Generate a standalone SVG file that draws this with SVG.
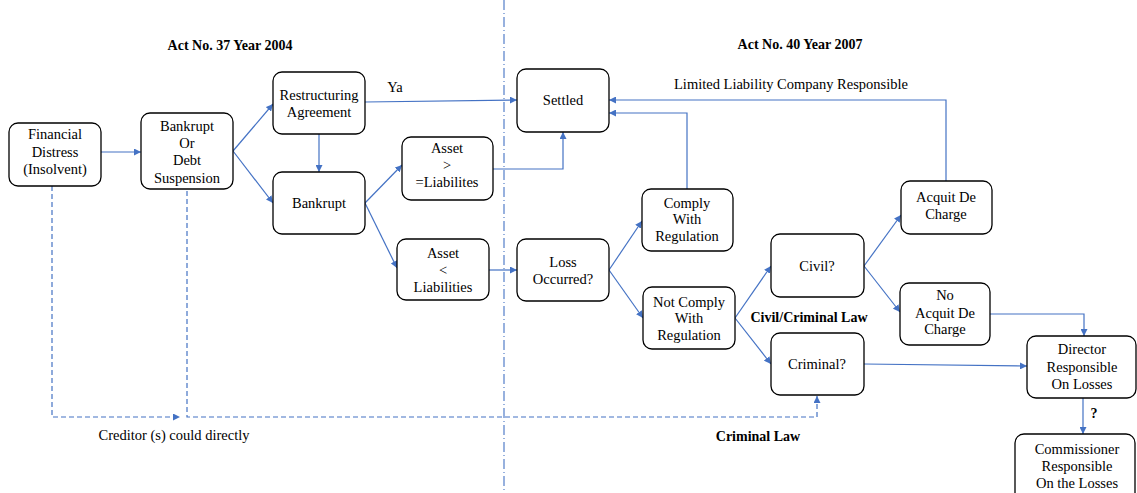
<svg xmlns="http://www.w3.org/2000/svg" width="1137" height="493" viewBox="0 0 1137 493">
<defs>
<marker id="ah" viewBox="0 0 10 10" refX="10" refY="5" markerWidth="7" markerHeight="7" markerUnits="userSpaceOnUse" orient="auto">
<path d="M0,0 L10,5 L0,10 z" fill="#4472C4"/>
</marker>
<style>
.box{fill:#fff;stroke:#000;stroke-width:1.3}
.t{font-family:"Liberation Serif","Times New Roman",serif;font-size:14.5px;fill:#000;text-anchor:middle}
.b{font-family:"Liberation Serif","Times New Roman",serif;font-size:14px;font-weight:bold;fill:#000;text-anchor:middle}
.c{fill:none;stroke:#4472C4;stroke-width:1.2}
.d{fill:none;stroke:#4472C4;stroke-width:1.2;stroke-dasharray:5 3}
.div{fill:none;stroke:#4472C4;stroke-width:1.1;stroke-dasharray:10 3 1 3}
</style>
</defs>
<rect width="1137" height="493" fill="#fff"/>
<line class="div" x1="504" y1="0" x2="504" y2="493"/>
<g id="labels">
<text class="b" x="230" y="50" font-size="13.5">Act No. 37 Year  2004</text>
<text class="b" x="800" y="49" font-size="13.5">Act No. 40 Year 2007</text>
<text class="t" x="395" y="92" text-anchor="start">Ya</text>
<text class="t" x="791" y="89">Limited Liability Company Responsible</text>
<text class="b" x="809" y="322">Civil/Criminal Law</text>
<text class="t" x="174" y="440">Creditor (s) could directly</text>
<text class="b" x="758" y="441">Criminal Law</text>
<text class="b" x="1094" y="418">?</text>
</g>
<g id="connectors">
<line class="c" x1="101" y1="152" x2="141" y2="152" marker-end="url(#ah)"/>
<line class="c" x1="233" y1="151" x2="273" y2="104" marker-end="url(#ah)"/>
<line class="c" x1="233" y1="151" x2="273" y2="203" marker-end="url(#ah)"/>
<line class="c" x1="319" y1="134" x2="319" y2="172" marker-end="url(#ah)"/>
<polyline class="c" points="365,102 517,100" marker-end="url(#ah)"/>
<line class="c" x1="365" y1="203" x2="402" y2="165" marker-end="url(#ah)"/>
<line class="c" x1="365" y1="203" x2="397" y2="268" marker-end="url(#ah)"/>
<polyline class="c" points="493,169 563,169 563,132" marker-end="url(#ah)"/>
<line class="c" x1="489" y1="270" x2="517" y2="270" marker-end="url(#ah)"/>
<line class="c" x1="609" y1="270" x2="642" y2="221" marker-end="url(#ah)"/>
<line class="c" x1="609" y1="270" x2="643" y2="318" marker-end="url(#ah)"/>
<polyline class="c" points="687,189 687,113 609,113" marker-end="url(#ah)"/>
<polyline class="c" points="946,181 946,100 609,100" marker-end="url(#ah)"/>
<line class="c" x1="735" y1="318" x2="771" y2="266" marker-end="url(#ah)"/>
<line class="c" x1="735" y1="318" x2="771" y2="364" marker-end="url(#ah)"/>
<line class="c" x1="864" y1="266" x2="901" y2="215" marker-end="url(#ah)"/>
<line class="c" x1="864" y1="266" x2="900" y2="312" marker-end="url(#ah)"/>
<polyline class="c" points="990,314 1084,314 1084,336" marker-end="url(#ah)"/>
<line class="c" x1="864" y1="364" x2="1027" y2="366" marker-end="url(#ah)"/>
<line class="c" x1="1083" y1="398" x2="1083" y2="434" marker-end="url(#ah)"/>
<polyline class="d" points="52,186 52,417 180,417" marker-end="url(#ah)"/>
<polyline class="d" points="187,191 187,417 817,417 817,396" marker-end="url(#ah)"/>
</g>
<g id="n1"><rect class="box" x="9" y="123" width="92" height="63" rx="9"/>
<text class="t" x="55" y="139">Financial</text><text class="t" x="55" y="157">Distress</text><text class="t" x="55" y="174">(Insolvent)</text></g>
<g id="n2"><rect class="box" x="141" y="113" width="92" height="76" rx="9"/>
<text class="t" x="187" y="131">Bankrupt</text><text class="t" x="187" y="148">Or</text><text class="t" x="187" y="165">Debt</text><text class="t" x="187" y="183">Suspension</text></g>
<g id="n3"><rect class="box" x="273" y="72" width="92" height="62" rx="9"/>
<text class="t" x="319" y="100">Restructuring</text><text class="t" x="319" y="117">Agreement</text></g>
<g id="n4"><rect class="box" x="273" y="172" width="92" height="62" rx="9"/>
<text class="t" x="319" y="208">Bankrupt</text></g>
<g id="n5"><rect class="box" x="517" y="69" width="92" height="63" rx="9"/>
<text class="t" x="563" y="105">Settled</text></g>
<g id="n6"><rect class="box" x="402" y="137" width="91" height="63" rx="9"/>
<text class="t" x="447" y="153">Asset</text><text class="t" x="447" y="170">&gt;</text><text class="t" x="447" y="187">=Liabilites</text></g>
<g id="n7"><rect class="box" x="397" y="239" width="92" height="61" rx="9"/>
<text class="t" x="443" y="258">Asset</text><text class="t" x="443" y="275">&lt;</text><text class="t" x="443" y="292">Liabilities</text></g>
<g id="n8"><rect class="box" x="517" y="239" width="92" height="62" rx="9"/>
<text class="t" x="563" y="267">Loss</text><text class="t" x="563" y="284">Occurred?</text></g>
<g id="n9"><rect class="box" x="642" y="189" width="91" height="62" rx="9"/>
<text class="t" x="687" y="208">Comply</text><text class="t" x="687" y="224">With</text><text class="t" x="687" y="241">Regulation</text></g>
<g id="n10"><rect class="box" x="643" y="287" width="92" height="62" rx="9"/>
<text class="t" x="689" y="307">Not Comply</text><text class="t" x="689" y="323">With</text><text class="t" x="689" y="340">Regulation</text></g>
<g id="n11"><rect class="box" x="771" y="234" width="93" height="63" rx="9"/>
<text class="t" x="817" y="271">Civil?</text></g>
<g id="n12"><rect class="box" x="771" y="333" width="93" height="62" rx="9"/>
<text class="t" x="817" y="369">Criminal?</text></g>
<g id="n13"><rect class="box" x="901" y="181" width="91" height="53" rx="9"/>
<text class="t" x="946" y="202">Acquit De</text><text class="t" x="946" y="219">Charge</text></g>
<g id="n14"><rect class="box" x="900" y="283" width="90" height="62" rx="9"/>
<text class="t" x="945" y="300">No</text><text class="t" x="945" y="318">Acquit De</text><text class="t" x="945" y="334">Charge</text></g>
<g id="n15"><rect class="box" x="1027" y="336" width="109" height="62" rx="9"/>
<text class="t" x="1082" y="354">Director</text><text class="t" x="1082" y="372">Responsible</text><text class="t" x="1082" y="389">On Losses</text></g>
<g id="n16"><rect class="box" x="1015" y="434" width="120" height="70" rx="9"/>
<text class="t" x="1077" y="454">Commissioner</text><text class="t" x="1077" y="471">Responsible</text><text class="t" x="1077" y="488">On the Losses</text></g>
</svg>
